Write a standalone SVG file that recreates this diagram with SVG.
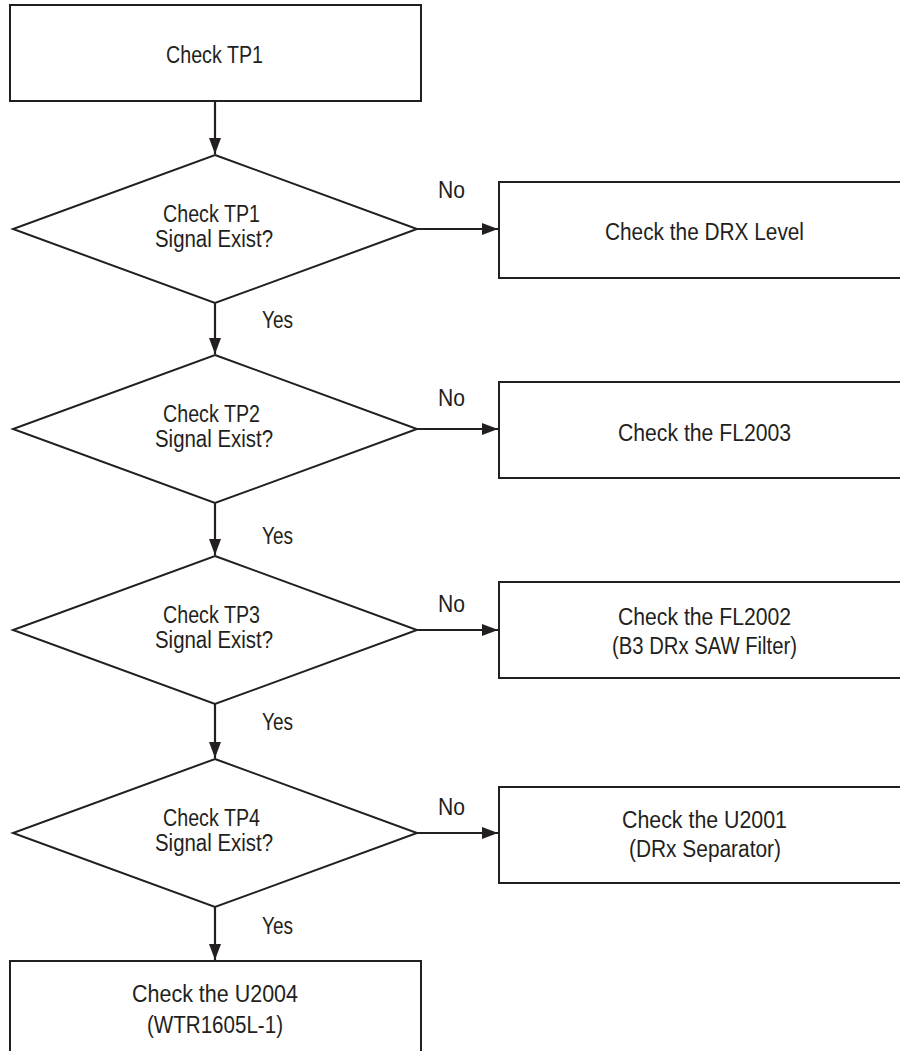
<svg xmlns="http://www.w3.org/2000/svg" width="900" height="1051" viewBox="0 0 900 1051">
<defs>
<style>
.box{fill:#fff;stroke:#231f20;stroke-width:2}
.dia{fill:#fff;stroke:#231f20;stroke-width:2}
.ln{fill:none;stroke:#231f20;stroke-width:2.2}
text{font-family:"Liberation Sans",Arial,sans-serif;font-size:23px;fill:#231f20}
</style>
<marker id="ah" viewBox="0 0 16 12" refX="16" refY="6" markerWidth="16" markerHeight="12" markerUnits="userSpaceOnUse" orient="auto">
<path d="M0,0 L16,6 L0,12 Z" fill="#231f20"/>
</marker>
</defs>
<rect width="900" height="1051" fill="#fff"/>
<g id="connectors">
<line class="ln" x1="215" y1="101" x2="215" y2="154" marker-end="url(#ah)"/>
<line class="ln" x1="215" y1="303" x2="215" y2="354" marker-end="url(#ah)"/>
<line class="ln" x1="215" y1="503" x2="215" y2="555" marker-end="url(#ah)"/>
<line class="ln" x1="215" y1="704" x2="215" y2="758" marker-end="url(#ah)"/>
<line class="ln" x1="215" y1="907" x2="215" y2="960" marker-end="url(#ah)"/>
<line class="ln" x1="417" y1="229" x2="498" y2="229" marker-end="url(#ah)"/>
<line class="ln" x1="417" y1="429" x2="498" y2="429" marker-end="url(#ah)"/>
<line class="ln" x1="417" y1="630" x2="498" y2="630" marker-end="url(#ah)"/>
<line class="ln" x1="417" y1="833" x2="498" y2="833" marker-end="url(#ah)"/>
<text x="438" y="198" textLength="27" lengthAdjust="spacingAndGlyphs">No</text>
<text x="438" y="406" textLength="27" lengthAdjust="spacingAndGlyphs">No</text>
<text x="438" y="612" textLength="27" lengthAdjust="spacingAndGlyphs">No</text>
<text x="438" y="815" textLength="27" lengthAdjust="spacingAndGlyphs">No</text>
<text x="262" y="328" textLength="31" lengthAdjust="spacingAndGlyphs">Yes</text>
<text x="262" y="544" textLength="31" lengthAdjust="spacingAndGlyphs">Yes</text>
<text x="262" y="730" textLength="31" lengthAdjust="spacingAndGlyphs">Yes</text>
<text x="262" y="934" textLength="31" lengthAdjust="spacingAndGlyphs">Yes</text>
</g>
<g id="start">
<rect class="box" x="10" y="5" width="411" height="96"/>
<text x="166" y="63" textLength="97" lengthAdjust="spacingAndGlyphs">Check TP1</text>
</g>
<g id="d1">
<polygon class="dia" points="215,155 417,229 215,303 13,229"/>
<text x="163" y="222" textLength="97" lengthAdjust="spacingAndGlyphs">Check TP1</text>
<text x="155" y="247" textLength="118" lengthAdjust="spacingAndGlyphs">Signal Exist?</text>
</g>
<g id="d2">
<polygon class="dia" points="215,355 417,429 215,503 13,429"/>
<text x="163" y="422" textLength="97" lengthAdjust="spacingAndGlyphs">Check TP2</text>
<text x="155" y="447" textLength="118" lengthAdjust="spacingAndGlyphs">Signal Exist?</text>
</g>
<g id="d3">
<polygon class="dia" points="215,556 417,630 215,704 13,630"/>
<text x="163" y="623" textLength="97" lengthAdjust="spacingAndGlyphs">Check TP3</text>
<text x="155" y="648" textLength="118" lengthAdjust="spacingAndGlyphs">Signal Exist?</text>
</g>
<g id="d4">
<polygon class="dia" points="215,759 417,833 215,907 13,833"/>
<text x="163" y="826" textLength="97" lengthAdjust="spacingAndGlyphs">Check TP4</text>
<text x="155" y="851" textLength="118" lengthAdjust="spacingAndGlyphs">Signal Exist?</text>
</g>
<g id="r1">
<rect class="box" x="499" y="182" width="412" height="96"/>
<text x="605" y="240" textLength="199" lengthAdjust="spacingAndGlyphs">Check the DRX Level</text>
</g>
<g id="r2">
<rect class="box" x="499" y="382" width="412" height="96"/>
<text x="618" y="441" textLength="173" lengthAdjust="spacingAndGlyphs">Check the FL2003</text>
</g>
<g id="r3">
<rect class="box" x="499" y="582" width="412" height="96"/>
<text x="618" y="625" textLength="173" lengthAdjust="spacingAndGlyphs">Check the FL2002</text>
<text x="612" y="654" textLength="185" lengthAdjust="spacingAndGlyphs">(B3 DRx SAW Filter)</text>
</g>
<g id="r4">
<rect class="box" x="499" y="787" width="412" height="96"/>
<text x="622" y="828" textLength="165" lengthAdjust="spacingAndGlyphs">Check the U2001</text>
<text x="629" y="857" textLength="152" lengthAdjust="spacingAndGlyphs">(DRx Separator)</text>
</g>
<g id="end">
<rect class="box" x="10" y="961" width="411" height="100"/>
<text x="132" y="1002" textLength="166" lengthAdjust="spacingAndGlyphs">Check the U2004</text>
<text x="147" y="1033" textLength="136" lengthAdjust="spacingAndGlyphs">(WTR1605L-1)</text>
</g>
</svg>
